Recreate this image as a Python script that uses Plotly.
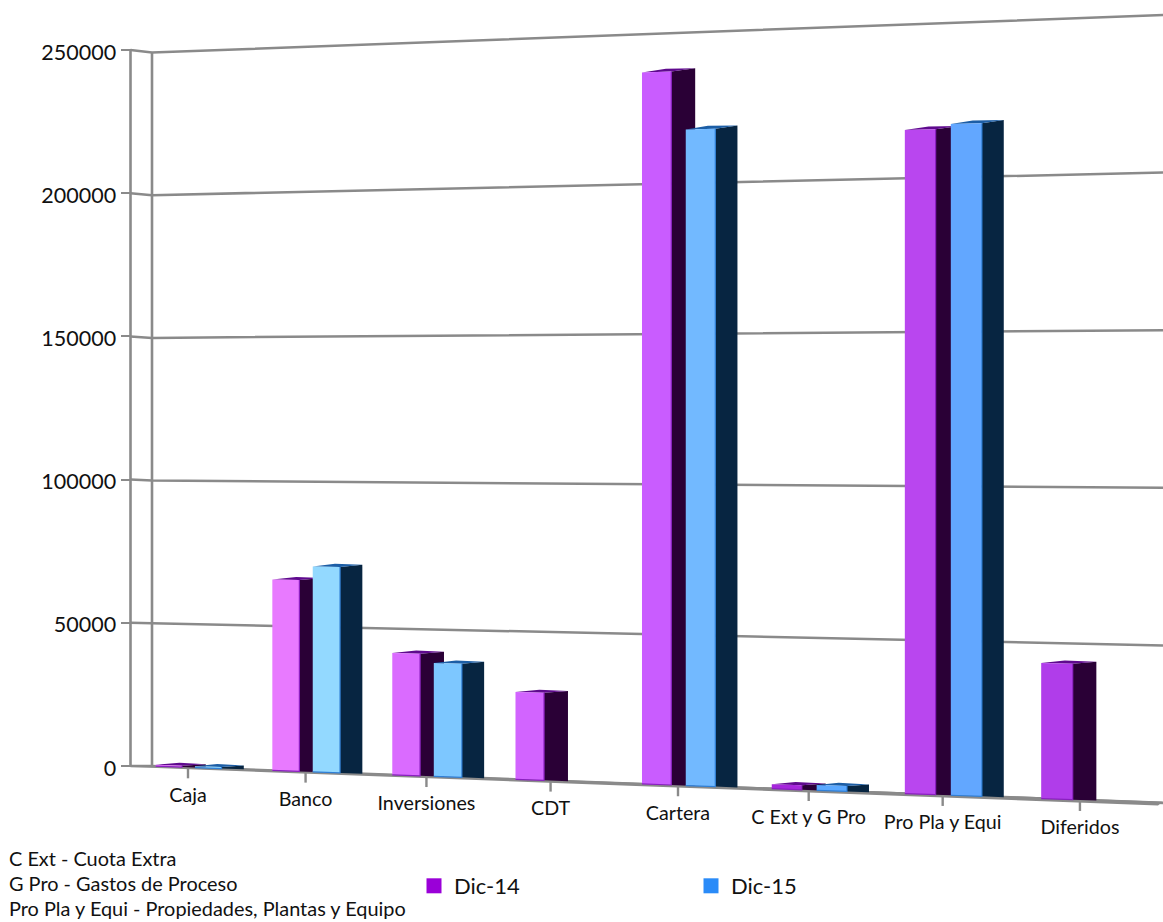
import plotly.graph_objects as go

# Balance-sheet accounts at two year ends
categories = ["Caja", "Banco", "Inversiones", "CDT", "Cartera", "C Ext y G Pro", "Pro Pla y Equi", "Diferidos"]
dic_14 = [450, 66060, 41640, 29480, 237260, 1500, 215700, 43510]
dic_15 = [500, 70800, 38580, None, 217860, 1750, 217270, None]
y_ticks = [0, 50000, 100000, 150000, 200000, 250000]
notes = ["C Ext - Cuota Extra", "G Pro - Gastos de Proceso", "Pro Pla y Equi - Propiedades, Plantas y Equipo"]

# Shades of each series' front face, one per account
front_14 = ["#e97bff", "#e87aff", "#da6bff", "#d264ff", "#c95cff", "#a626dc", "#b946ef", "#b03dea"]
front_15 = ["#92d8ff", "#93d9ff", "#7dc7ff", None, "#72b9ff", "#5aa8ff", "#62a7ff", None]
side_14, top_14, edge_14 = "#2a0036", "#5f0a8e", "#8a1fc0"
side_15, top_15, edge_15 = "#072541", "#1c5ea6", "#2f7fd6"
GREY = "#8a8a8a"
FONT = "Lato"
INK = "#111111"

W, H = 1163, 922
AXIS_X, WALL_X, RIGHT_X = 130.5, 152.0, 1163.0
ZERO_PX, TOP_PX = 766.0, 50.0
UNITS_PER_PX = 250000 / (ZERO_PX - TOP_PX)


def px_to_value(px):
    """Axis value that sits at a given distance from the top of the page."""
    return (ZERO_PX - px) * UNITS_PER_PX


def persp(x, v, lift=0.0):
    """Value on the left axis scale that lines up with v on the receding wall at x."""
    t = (x - WALL_X) / (RIGHT_X - WALL_X)
    floor = 766.0 + 37.0 * t
    span = 713.5 + 74.5 * t
    return px_to_value(floor - v * span / 250000 - lift)


def slot_x(u):
    """Horizontal position of slot coordinate u; slots widen towards the viewer."""
    return 188 + 115.94 * u + 1.64 * u * u


def add_bar(fig, u, value, offset, depth, front, side, top, edge):
    x0, x1 = slot_x(u + offset), slot_x(u + offset + 0.228)
    xb = slot_x(u + offset + 0.228 + depth - 0.005 * u)
    dx = xb - x1
    # side face
    fig.add_trace(go.Scatter(
        x=[x1, xb, xb, x1, x1],
        y=[persp(x1, value), persp(xb, value, 2.5), persp(xb, 0), persp(x1, 0), persp(x1, value)],
        mode="lines", fill="toself", fillcolor=side, line=dict(width=0),
        hoverinfo="skip", showlegend=False))
    # top face
    fig.add_trace(go.Scatter(
        x=[x0, x1, xb, x0 + dx, x0],
        y=[persp(x0, value), persp(x1, value), persp(xb, value, 2.5), persp(x0 + dx, value, 3), persp(x0, value)],
        mode="lines", fill="toself", fillcolor=top, line=dict(width=0),
        hoverinfo="skip", showlegend=False))
    # front face
    fig.add_trace(go.Scatter(
        x=[x0, x1, x1, x0, x0],
        y=[persp(x0, value), persp(x1, value), persp(x1, 0), persp(x0, 0), persp(x0, value)],
        mode="lines", fill="toself", fillcolor=front, line=dict(width=0),
        hoverinfo="skip", showlegend=False))
    # darker lower and right edges of the front face
    fig.add_trace(go.Scatter(
        x=[x0, x1, x1], y=[persp(x0, 0), persp(x1, 0), persp(x1, value)],
        mode="lines", line=dict(color=edge, width=1.2),
        hoverinfo="skip", showlegend=False))


fig = go.Figure()

# Gridlines running from the axis across the wall
for v in y_ticks:
    fig.add_trace(go.Scatter(
        x=[AXIS_X, WALL_X, RIGHT_X],
        y=[v, persp(WALL_X, v), persp(RIGHT_X, v)],
        mode="lines", line=dict(color=GREY, width=2.5),
        hoverinfo="skip", showlegend=False))

# Value axis and the back corner of the wall
fig.add_trace(go.Scatter(x=[AXIS_X, AXIS_X], y=[y_ticks[0], y_ticks[-1]], mode="lines",
                         line=dict(color=GREY, width=2.6), hoverinfo="skip", showlegend=False))
fig.add_trace(go.Scatter(x=[WALL_X, WALL_X], y=[persp(WALL_X, 0), persp(WALL_X, y_ticks[-1])], mode="lines",
                         line=dict(color=GREY, width=2.6), hoverinfo="skip", showlegend=False))

# Floor wedge
fig.add_trace(go.Scatter(
    x=[AXIS_X, WALL_X, RIGHT_X, 1158, AXIS_X],
    y=[px_to_value(767), px_to_value(765.5), px_to_value(801.5), px_to_value(805.5), px_to_value(767)],
    mode="lines", fill="toself", fillcolor=GREY, line=dict(width=0),
    hoverinfo="skip", showlegend=False))

# Category tick marks and labels hanging under the floor
tick_x = [slot_x(i) for i in range(len(categories))]
for x in tick_x:
    fig.add_trace(go.Scatter(
        x=[x, x], y=[persp(x, 0), persp(x, 0, -11)], mode="lines",
        line=dict(color=GREY, width=2.4), hoverinfo="skip", showlegend=False))

# Bars, back to front within each account
for i in range(len(categories)):
    add_bar(fig, i, dic_14[i], -0.28, 0.205, front_14[i], side_14, top_14, edge_14)
    if dic_15[i] is not None:
        add_bar(fig, i, dic_15[i], 0.06, 0.19, front_15[i], side_15, top_15, edge_15)

fig.add_trace(go.Scatter(
    x=tick_x, y=[persp(x, 0, -29.5) for x in tick_x], text=categories,
    mode="text", textposition="middle center", textfont=dict(family=FONT, size=19.7, color=INK),
    hoverinfo="skip", showlegend=False, cliponaxis=False))

# Legend entries
fig.add_trace(go.Scatter(x=[None], y=[None], mode="markers", name="Dic-14",
                         marker=dict(symbol="square", size=15, color="#9a00d8")))
fig.add_trace(go.Scatter(x=[None], y=[None], mode="markers", name="Dic-15",
                         marker=dict(symbol="square", size=15, color="#2a8bf8")))

# Abbreviation key
annotations = [
    dict(x=7, y=px_to_value(py), xref="x", yref="y", text=t, showarrow=False,
         xanchor="left", yanchor="middle", font=dict(family=FONT, size=19.9, color=INK))
    for t, py in zip(notes, [858, 883, 908])
]

fig.update_layout(
    width=W, height=H, margin=dict(l=0, r=0, t=0, b=0),
    paper_bgcolor="white", plot_bgcolor="white",
    font=dict(family=FONT, color=INK),
    annotations=annotations,
    xaxis=dict(visible=False, range=[0, W], domain=[0, 1], fixedrange=True),
    yaxis=dict(range=[px_to_value(H), px_to_value(0)], domain=[0, 1], anchor="free",
               position=AXIS_X / W, tickvals=y_ticks, ticktext=[str(v) for v in y_ticks],
               ticks="outside", ticklen=10, tickwidth=2.4, tickcolor=GREY,
               tickfont=dict(family=FONT, size=21.5, color=INK), ticklabelshift=2,
               showgrid=False, zeroline=False, showline=False, fixedrange=True),
    legend=dict(orientation="h", x=414 / W, y=1 - 886 / H, xanchor="left", yanchor="middle",
                entrywidth=232, entrywidthmode="pixels", itemwidth=30,
                font=dict(family=FONT, size=22, color=INK), bgcolor="rgba(0,0,0,0)",
                itemclick=False, itemdoubleclick=False),
)

fig.write_html("out.html", config=dict(displayModeBar=False))
